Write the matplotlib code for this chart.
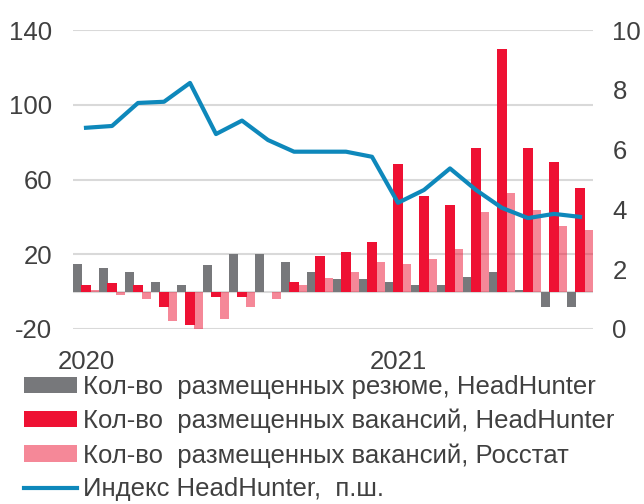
import matplotlib
matplotlib.use("Agg")
import matplotlib.pyplot as plt
import numpy as np
from matplotlib.patches import Patch
from matplotlib.lines import Line2D

plt.rcParams['font.family'] = ['Liberation Sans', 'DejaVu Sans']
plt.rcParams['axes.unicode_minus'] = False

# Monthly data, Jan 2020 - Aug 2021 (% y/y)
months = ['2020-01', '2020-02', '2020-03', '2020-04', '2020-05', '2020-06',
          '2020-07', '2020-08', '2020-09', '2020-10', '2020-11', '2020-12',
          '2021-01', '2021-02', '2021-03', '2021-04', '2021-05', '2021-06',
          '2021-07', '2021-08']
year_labels = ['2020', '2021']
year_positions = [0, 12]

resumes_hh = [15, 12.7, 10.6, 5.2, 3.3, 14, 20.2, 20.2, 15.9, 10.6,
              6.5, 6.5, 5.2, 3.3, 3.3, 7.8, 10.6, 1, -8.3, -8.3]
vacancies_hh = [3.3, 4.4, 3.3, -8.3, -17.9, -2.8, -2.8, 0, 5.2, 19,
                21.3, 26.6, 68.3, 51.1, 46.1, 76.9, 130, 76.9, 69.4, 55.5]
vacancies_rosstat = [1, -1.9, -3.8, -15.8, -21.1, -14.5, -8.1, -3.8, 3.3, 7.4,
                     10.6, 15.9, 14.9, 17.2, 22.6, 42.6, 52.6, 43.6, 35, 32.9]
hh_index = [6.73, 6.79, 7.56, 7.60, 8.23, 6.52, 6.97, 6.32, 5.93, 5.93,
            5.93, 5.76, 4.22, 4.65, 5.37, 4.65, 4.05, 3.71, 3.85, 3.75]

labels = ['Кол-во  размещенных резюме, HeadHunter',
          'Кол-во  размещенных вакансий, HeadHunter',
          'Кол-во  размещенных вакансий, Росстат',
          'Индекс HeadHunter,  п.ш.']

c_gray = '#77787b'
c_red = '#ee1133'
c_pink = (0.93, 0.07, 0.2, 0.5)
c_line = '#0e88bb'
c_grid = '#d9d9d9'
c_text = '#404040'
fs = 18.5

fig = plt.figure(figsize=(6.44, 5.04), dpi=100)
ax = fig.add_axes([73 / 644, 1 - 329 / 504, 520 / 644, 299 / 504])
ax2 = ax.twinx()

x = np.arange(len(months))
w = 0.36
ax.bar(x - 0.32, resumes_hh, w, color=c_gray, zorder=2)
ax.bar(x, vacancies_hh, w, color=c_red, zorder=2)
ax.bar(x + 0.32, vacancies_rosstat, w, color=c_pink, zorder=2)

ax.set_ylim(-20, 140)
ax.set_yticks([-20, 20, 60, 100, 140])
ax.set_xlim(-0.5, len(months) - 0.5)
ax.yaxis.grid(True, color=c_grid, linewidth=1.5, zorder=0)
ax.axhline(0, color=c_grid, linewidth=1.5, zorder=1)
ax.set_axisbelow(True)
ax.set_xticks(year_positions)
ax.set_xticklabels(year_labels)
ax.tick_params(axis='x', length=0, pad=15, labelsize=fs, labelcolor=c_text)
ax.tick_params(axis='y', length=0, pad=15, labelsize=fs, labelcolor=c_text)

ax2.plot(x, hh_index, color=c_line, linewidth=3, solid_joinstyle='round', zorder=3)
ax2.set_ylim(0, 10)
ax2.set_yticks([0, 2, 4, 6, 8, 10])
ax2.tick_params(axis='y', length=0, pad=14, labelsize=fs, labelcolor=c_text)

for a in (ax, ax2):
    for s in a.spines.values():
        s.set_visible(False)

handles = [Patch(facecolor=c_gray), Patch(facecolor=c_red), Patch(facecolor=c_pink),
           Line2D([0], [0], color=c_line, linewidth=3)]
fig.legend(handles, labels, loc='upper left', bbox_to_anchor=(24 / 644, 1 - 375 / 504),
           frameon=False, fontsize=fs, handlelength=2.05, handleheight=0.6,
           handletextpad=0.25, labelspacing=0.38, borderaxespad=0, borderpad=0,
           labelcolor=c_text)

fig.savefig('out.png', dpi=100)
